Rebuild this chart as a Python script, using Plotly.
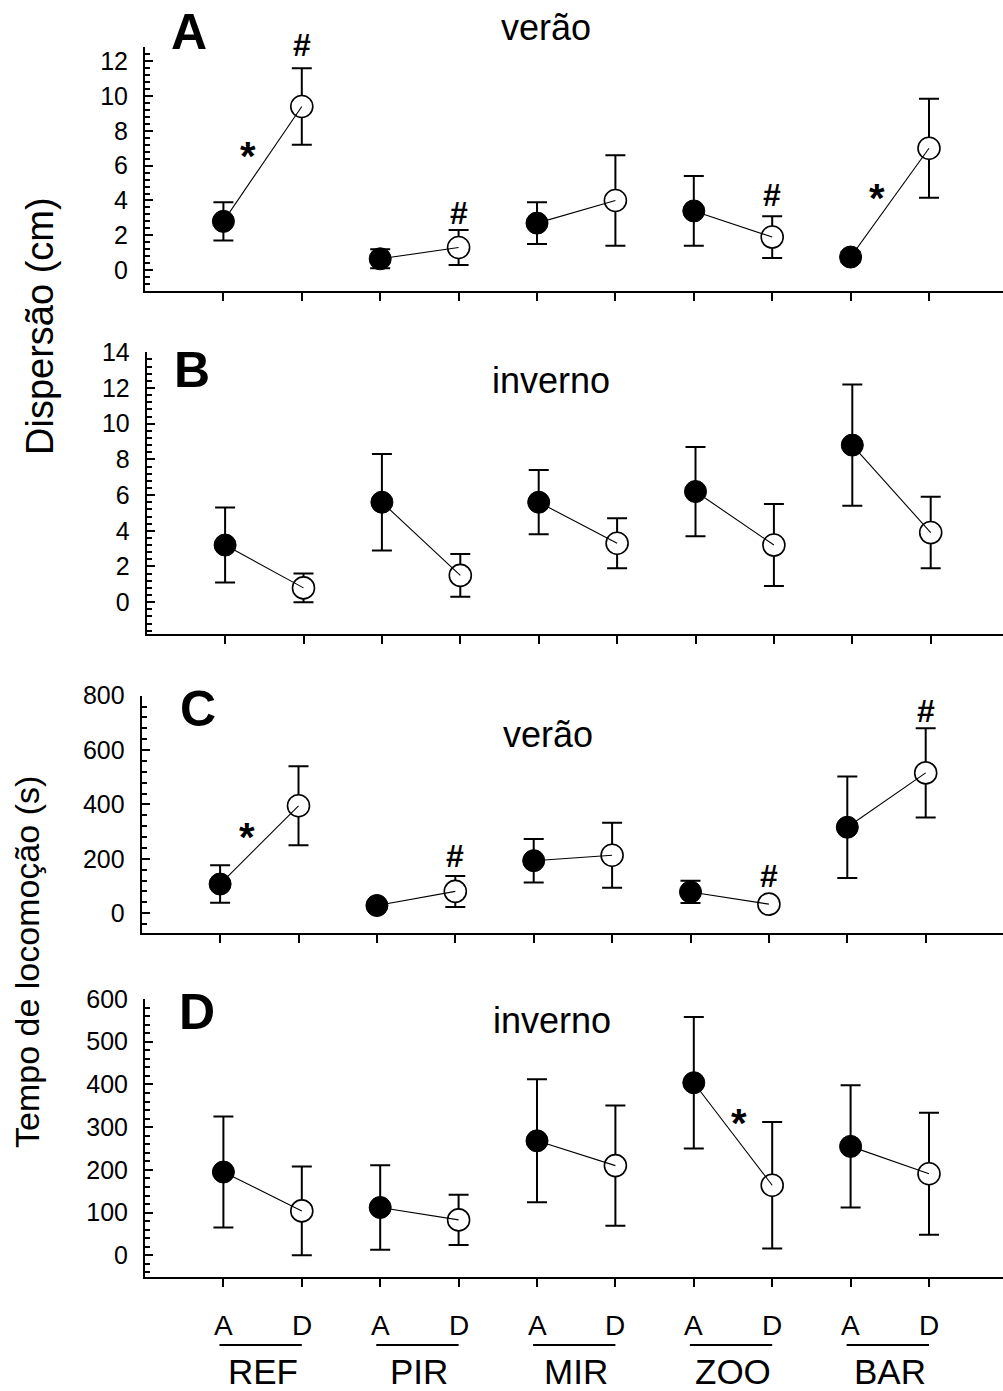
import plotly.graph_objects as go

# ---- data -------------------------------------------------------------
grupos = ["REF", "PIR", "MIR", "ZOO", "BAR"]
momentos = ["A", "D"]

# Dispersão (cm) - verão
disp_verao_antes = [2.8, 0.65, 2.7, 3.4, 0.75]
disp_verao_antes_ep = [1.1, 0.55, 1.2, 2.0, 0.3]
disp_verao_depois = [9.4, 1.3, 4.0, 1.9, 7.0]
disp_verao_depois_ep = [2.2, 1.0, 2.6, 1.2, 2.85]

# Dispersão (cm) - inverno
disp_inverno_antes = [3.2, 5.6, 5.6, 6.2, 8.8]
disp_inverno_antes_ep = [2.1, 2.7, 1.8, 2.5, 3.4]
disp_inverno_depois = [0.8, 1.5, 3.3, 3.2, 3.9]
disp_inverno_depois_ep = [0.8, 1.2, 1.4, 2.3, 2.0]

# Tempo de locomoção (s) - verão
loc_verao_antes = [107, 28, 193, 78, 316]
loc_verao_antes_ep = [69, 12, 80, 41, 187]
loc_verao_depois = [395, 80, 213, 33, 516]
loc_verao_depois_ep = [145, 57, 120, 10, 164]

# Tempo de locomoção (s) - inverno
loc_inverno_antes = [195, 112, 268, 404, 255]
loc_inverno_antes_ep = [130, 99, 144, 154, 143]
loc_inverno_depois = [104, 83, 210, 164, 191]
loc_inverno_depois_ep = [104, 59, 141, 148, 143]

# significance marks: (panel, x position, y position, symbol)
marcas = [
    (0, 2, 12.92, "#"), (0, 1.31, 7.12, "*"), (0, 4, 3.29, "#"),
    (0, 8, 4.31, "#"), (0, 9.34, 4.71, "*"),
    (2, 1.34, 318, "*"), (2, 4, 212, "#"), (2, 8, 137, "#"), (2, 10, 742, "#"),
    (3, 7.58, 332, "*"),
]

# ---- layout helpers ---------------------------------------------------
W, H = 1003, 1391
FONT = "Liberation Sans, Arial, Helvetica, sans-serif"
PX_PER_X = 78.4

paineis = [
    dict(antes=disp_verao_antes, ep_a=disp_verao_antes_ep,
         depois=disp_verao_depois, ep_d=disp_verao_depois_ep,
         yr=[-1.2, 12.8], dtick=2, minor=0.4, left=145, top=47.3, bottom=291,
         letra="A", letra_xy=(189, 32), estacao="verão", est_xy=(546, 27)),
    dict(antes=disp_inverno_antes, ep_a=disp_inverno_antes_ep,
         depois=disp_inverno_depois, ep_d=disp_inverno_depois_ep,
         yr=[-1.8, 14], dtick=2, minor=0.4, left=146.7, top=352.3, bottom=634.3,
         letra="B", letra_xy=(191.5, 370), estacao="inverno", est_xy=(551, 380)),
    dict(antes=loc_verao_antes, ep_a=loc_verao_antes_ep,
         depois=loc_verao_depois, ep_d=loc_verao_depois_ep,
         yr=[-72, 800], dtick=200, minor=40, left=141.7, top=695.7, bottom=932.7,
         letra="C", letra_xy=(197.5, 709), estacao="verão", est_xy=(548, 735)),
    dict(antes=loc_inverno_antes, ep_a=loc_inverno_antes_ep,
         depois=loc_inverno_depois, ep_d=loc_inverno_depois_ep,
         yr=[-50, 600], dtick=100, minor=20, left=145, top=999, bottom=1276.7,
         letra="D", letra_xy=(196.5, 1012), estacao="inverno", est_xy=(552, 1020)),
]


def y_para_papel(p, y):
    """Map a data value of a panel to paper coordinates (works beyond the range)."""
    d0, d1 = 1 - p["bottom"] / H, 1 - p["top"] / H
    r0, r1 = p["yr"]
    return d0 + (y - r0) / (r1 - r0) * (d1 - d0)


fig = go.Figure()
layout = dict(
    width=W, height=H, autosize=False,
    margin=dict(l=0, r=0, t=0, b=0, pad=0, autoexpand=False),
    paper_bgcolor="white", plot_bgcolor="white", showlegend=False,
    font=dict(family=FONT, color="black"),
)
annotations = []
shapes = []

x_antes = [2 * i + 1 for i in range(len(grupos))]
x_depois = [2 * i + 2 for i in range(len(grupos))]

for k, p in enumerate(paineis):
    n = k + 1
    xa, ya = f"x{n}", f"y{n}"
    xkey = "xaxis" if n == 1 else f"xaxis{n}"
    ykey = "yaxis" if n == 1 else f"yaxis{n}"

    err = dict(type="data", thickness=2, width=10, color="black")
    # error bars first, so markers sit on top of them
    fig.add_trace(go.Scatter(
        x=x_antes, y=p["antes"], mode="markers", xaxis=xa, yaxis=ya,
        marker=dict(size=1, color="rgba(0,0,0,0)"),
        error_y=dict(array=p["ep_a"], **err), hoverinfo="skip"))
    fig.add_trace(go.Scatter(
        x=x_depois, y=p["depois"], mode="markers", xaxis=xa, yaxis=ya,
        marker=dict(size=1, color="rgba(0,0,0,0)"),
        error_y=dict(array=p["ep_d"], **err), hoverinfo="skip"))
    # antes: filled, depois: open
    fig.add_trace(go.Scatter(
        x=x_antes, y=p["antes"], mode="markers", xaxis=xa, yaxis=ya,
        marker=dict(size=22, color="black", line=dict(width=1, color="black"))))
    fig.add_trace(go.Scatter(
        x=x_depois, y=p["depois"], mode="markers", xaxis=xa, yaxis=ya,
        marker=dict(size=22, color="white", line=dict(width=1.6, color="black"))))
    # connecting lines A -> D within each group
    lx, ly = [], []
    for i in range(len(grupos)):
        lx += [x_antes[i], x_depois[i], None]
        ly += [p["antes"][i], p["depois"][i], None]
    fig.add_trace(go.Scatter(
        x=lx, y=ly, mode="lines", xaxis=xa, yaxis=ya,
        line=dict(color="black", width=1.1), hoverinfo="skip"))

    x_dom = [p["left"] / W, 1.0]
    y_dom = [1 - p["bottom"] / H, 1 - p["top"] / H]
    layout[xkey] = dict(
        domain=x_dom, range=[0, (W - p["left"]) / PX_PER_X], anchor=ya,
        tickvals=x_antes + x_depois, showticklabels=False, automargin=False,
        ticks="outside", ticklen=8, tickwidth=2, tickcolor="black",
        showline=True, linewidth=2, linecolor="black",
        showgrid=False, zeroline=False)
    layout[ykey] = dict(
        domain=y_dom, range=p["yr"], anchor=xa, automargin=False,
        tick0=0, dtick=p["dtick"], ticks="inside", ticklen=8, tickwidth=2,
        tickcolor="black", ticklabelstandoff=10,
        tickfont=dict(size=25, family=FONT, color="black"),
        minor=dict(dtick=p["minor"], tick0=0, ticks="inside", ticklen=5,
                   tickwidth=1.5, tickcolor="black"),
        showline=True, linewidth=2, linecolor="black",
        showgrid=False, zeroline=False)

    # panel letter and season
    annotations.append(dict(
        text=f"<b>{p['letra']}</b>", x=p["letra_xy"][0] / W, y=1 - p["letra_xy"][1] / H,
        xref="paper", yref="paper", xanchor="center", yanchor="middle",
        showarrow=False, font=dict(size=50, family=FONT, color="black")))
    annotations.append(dict(
        text=p["estacao"], x=p["est_xy"][0] / W, y=1 - p["est_xy"][1] / H,
        xref="paper", yref="paper", xanchor="center", yanchor="middle",
        showarrow=False, font=dict(size=36, family=FONT, color="black")))

# significance marks
for k, xm, ym, s in marcas:
    n = k + 1
    star = s == "*"
    annotations.append(dict(
        text=f"<b>{s}</b>", x=xm, y=y_para_papel(paineis[k], ym),
        xref=f"x{n}", yref="paper", xanchor="center", yanchor="middle",
        yshift=-10 if star else 0, showarrow=False,
        font=dict(size=40 if star else 32, family=FONT, color="black")))

# axis titles spanning two panels
annotations.append(dict(
    text="Dispersão (cm)", x=40 / W, y=1 - 326 / H, xref="paper", yref="paper",
    textangle=-90, xanchor="center", yanchor="middle", showarrow=False,
    font=dict(size=38, family=FONT, color="black")))
annotations.append(dict(
    text="Tempo de locomoção (s)", x=27 / W, y=1 - 962 / H, xref="paper", yref="paper",
    textangle=-90, xanchor="center", yanchor="middle", showarrow=False,
    font=dict(size=34, family=FONT, color="black")))

# category labels under the bottom panel
for i, g in enumerate(grupos):
    for j, m in enumerate(momentos):
        annotations.append(dict(
            text=m, x=2 * i + 1 + j, y=1 - 1325 / H, xref="x4", yref="paper",
            xanchor="center", yanchor="middle", showarrow=False,
            font=dict(size=28, family=FONT, color="black")))
    annotations.append(dict(
        text=g, x=2 * i + 1.5, y=1 - 1371 / H, xref="x4", yref="paper",
        xanchor="center", yanchor="middle", showarrow=False,
        font=dict(size=35, family=FONT, color="black")))
    shapes.append(dict(
        type="line", xref="x4", yref="paper", x0=2 * i + 0.95, x1=2 * i + 2,
        y0=1 - 1345 / H, y1=1 - 1345 / H, line=dict(color="black", width=2)))

layout["annotations"] = annotations
layout["shapes"] = shapes
fig.update_layout(**layout)

fig.write_html("out.html")
